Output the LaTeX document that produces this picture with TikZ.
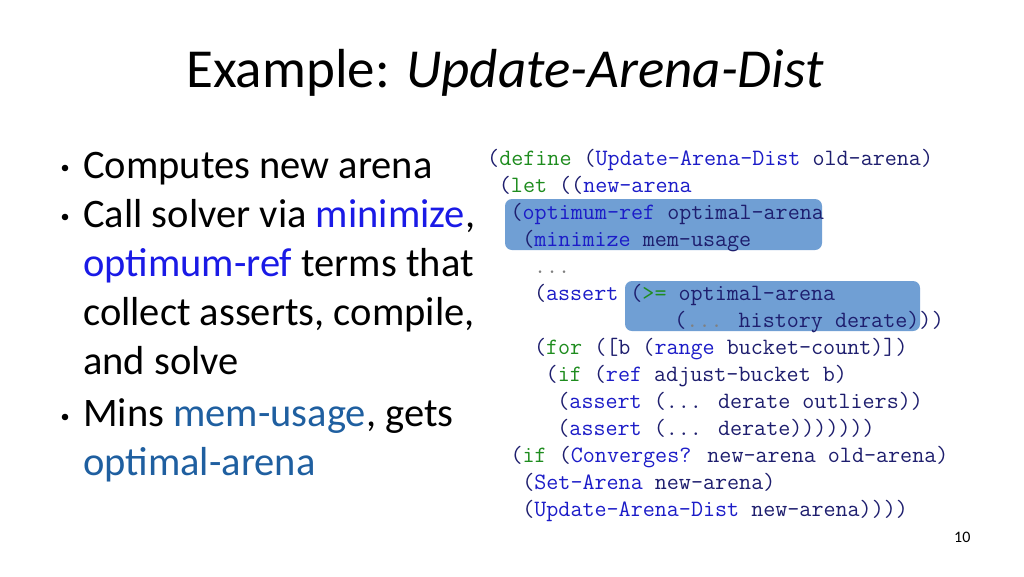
\documentclass[tikz,border=0pt]{standalone}
\usepackage{fontspec}
\setmainfont{Carlito}
\definecolor{navy}{HTML}{1E1E6E}
\definecolor{fnb}{HTML}{1C1CC8}
\definecolor{kwg}{HTML}{1E8C1E}
\definecolor{hl}{HTML}{709FD4}
\definecolor{bb}{HTML}{1A1AE6}
\definecolor{tb}{HTML}{1F5FA0}
\newcommand{\kw}[1]{\textcolor{kwg}{#1}}
\newcommand{\fn}[1]{\textcolor{fnb}{#1}}
\newcommand{\gy}[1]{\textcolor{gray}{#1}}
\begin{document}
\begin{tikzpicture}[x=1pt,y=-1pt,
  code/.style={anchor=base west,inner sep=0pt,text=navy,font=\fontsize{23.4}{27}\ttfamily},
  bul/.style={anchor=base west,inner sep=0pt,font=\fontsize{40.5}{44}\selectfont},
  hlbox/.style={fill=hl,rounded corners=7pt,draw=none}]
\useasboundingbox (0,0) rectangle (1024,576);
\fill[white] (0,0) rectangle (1024,576);
\node[anchor=base west,inner sep=0pt,font=\fontsize{55}{60}\selectfont] (title) at (186,87) {Example: \textit{Update-Arena-Dist}};
% highlights
\fill[hlbox] (505,199) rectangle (822,250);
\fill[hlbox] (625,281) rectangle (920,331);
% code
\newcommand{\cl}[3]{\node[code] (c#1) at ({487+#2*11.7},{165+(#1-1)*27}) {#3};}
\cl{1}{0}{(\kw{define} (\fn{Update-Arena-Dist} old-arena)}
\cl{2}{1}{(\kw{let} ((\fn{new-arena}}
\cl{3}{2}{(\fn{optimum-ref} optimal-arena}
\cl{4}{3}{(\fn{minimize} mem-usage}
\cl{5}{4}{\gy{...}}
\cl{6}{4}{(\fn{assert} (\kw{>=} optimal-arena}
\cl{7}{16}{(\gy{...} history derate))}
\node[code] (c7b) at ({487+38*11.7},327) {)};
\cl{8}{4}{(\kw{for} ([b (\fn{range} bucket-count)])}
\cl{9}{5}{(\kw{if} (\fn{ref} adjust-bucket b)}
\cl{10}{6}{(\fn{assert} (... derate outliers))}
\cl{11}{6}{(\fn{assert} (... derate)))))))}
\cl{12}{2}{(\kw{if} (\fn{Converges?} new-arena old-arena)}
\cl{13}{3}{(\fn{Set-Arena} new-arena)}
\cl{14}{3}{(\fn{Update-Arena-Dist} new-arena))))}
% bullets
\foreach \yy in {168,217,417}{\fill (65,\yy) circle (3.3pt);}
\node[bul] (l1) at (83,178) {Computes new arena};
\node[bul] (l2) at (83,227) {Call solver via \textcolor{bb}{minimize},};
\node[bul] (l3) at (83,276) {\textcolor{bb}{optimum-ref} terms that};
\node[bul] (l4) at (83,325) {collect asserts, compile,};
\node[bul] (l5) at (83,374) {and solve};
\node[bul] (l6) at (83,426) {Mins \textcolor{tb}{mem-usage}, gets};
\node[bul] (l7) at (83,475) {\textcolor{tb}{optimal-arena}};
\node[anchor=base west,inner sep=0pt,font=\fontsize{16}{18}\selectfont] (pg) at (954,542) {10};
\end{tikzpicture}
\end{document}
